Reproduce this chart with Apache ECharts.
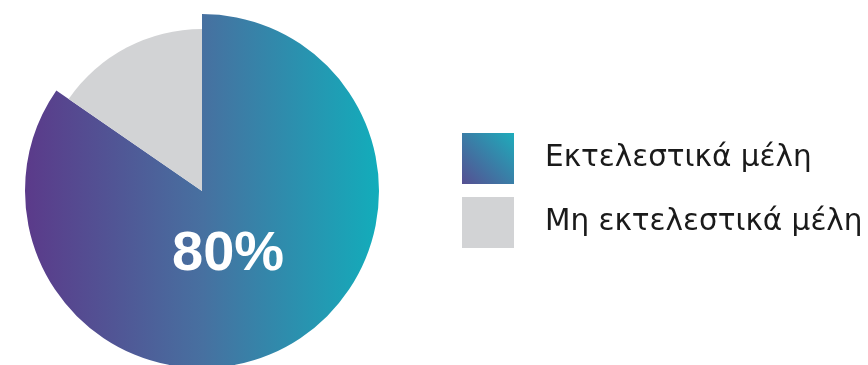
<!DOCTYPE html>
<html>
<head>
<meta charset="utf-8">
<script src="https://cdn.jsdelivr.net/npm/echarts@6/dist/echarts.min.js"></script>
<style>html,body{margin:0;padding:0;background:#fff}#c{width:868px;height:365px}</style>
</head>
<body>
<div id="c"></div>
<script>
const categories = ['Εκτελεστικά μέλη', 'Μη εκτελεστικά μέλη'];
const values = [11, 2];
const centerLabel = '80%';

const gradMain = {type:'linear', x:25, y:0, x2:380, y2:0, global:true,
  colorStops:[{offset:0,color:'#5b3a8a'},{offset:0.5,color:'#4770a0'},{offset:1,color:'#12adbb'}]};
const gradLegend = {type:'linear', x:0, y:1, x2:1, y2:0,
  colorStops:[{offset:0,color:'#564f92'},{offset:1,color:'#1eacbb'}]};
const grey = '#d2d3d5';

const chart = echarts.init(document.getElementById('c'));
chart.setOption({
  animation:false,
  backgroundColor:'#fff',
  legend:{
    orient:'vertical', left:462, top:133, padding:0,
    itemWidth:52, itemHeight:51, itemGap:13, icon:'rect',
    selectedMode:false,
    textStyle:{fontFamily:'DejaVu Sans', fontSize:29.5, color:'#1a1a1a', padding:[0,0,0,26]},
    data:[
      {name:categories[0], itemStyle:{color:gradLegend}},
      {name:categories[1], itemStyle:{color:grey}}
    ]
  },
  series:[
    {type:'pie', center:[202,191], radius:[0,177], startAngle:90, clockwise:true,
     label:{show:false}, labelLine:{show:false}, silent:true,
     data:[
       {name:categories[0], value:values[0], itemStyle:{color:gradMain}},
       {name:categories[1], value:values[1], itemStyle:{color:'rgba(0,0,0,0)'}}
     ]},
    {type:'pie', center:[202,191], radius:[0,162], startAngle:90, clockwise:true,
     label:{show:false}, labelLine:{show:false}, silent:true,
     data:[
       {name:categories[0], value:values[0], itemStyle:{color:'rgba(0,0,0,0)'}},
       {name:categories[1], value:values[1], itemStyle:{color:grey}}
     ]}
  ],
  graphic:[{type:'text', left:172, top:227, z:100,
    style:{text:centerLabel, fill:'#fff', font:'bold 56px "Liberation Sans", Arial, sans-serif'}}]
});
</script>
</body>
</html>
